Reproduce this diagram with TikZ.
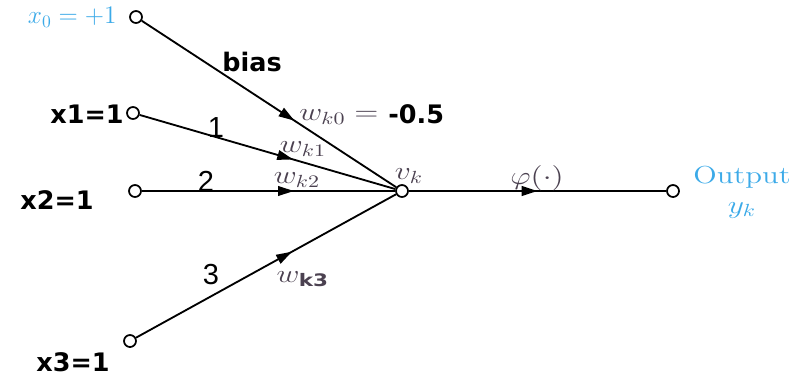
\documentclass[tikz,border=0pt]{standalone}
\usepackage{amsmath,graphicx}
\usepackage{fontspec}
\newfontfamily\boldsans{DejaVu Sans}
\newfontfamily\numsans{Liberation Sans}
\usetikzlibrary{arrows.meta,decorations.markings}
\definecolor{outblue}{RGB}{60,170,232}
\definecolor{wgray}{RGB}{75,65,80}
\newcommand{\hs}[1]{\scalebox{1.25}[1]{#1}}
\tikzset{
	cir/.style={draw,circle,line width=1pt,inner sep=0pt,minimum size=0.24cm,fill=white},
	wire/.style={line width=1.05pt},
	midarrow/.style={postaction={decorate,decoration={markings,
		mark=at position #1 with {\arrow{Triangle[length=9pt,width=5.5pt]}}}}},
	inlab/.style={font=\boldsans\bfseries\fontsize{14.5}{16}\selectfont},
	numlab/.style={font=\numsans\fontsize{16.5}{18}\selectfont},
	wlab/.style={text=wgray,font=\fontsize{14}{16}\selectfont,inner sep=0pt}
}

\begin{document}
\begin{tikzpicture}[x=0.02cm,y=-0.02cm]
	\useasboundingbox (0,0) rectangle (795,376);
	\node[cir] (x0) at (136,17) {};
	\node[cir] (x1) at (133,113) {};
	\node[cir] (x2) at (135,191) {};
	\node[cir] (x3) at (130,341) {};
	\node[cir] (vk) at (402,191) {};
	\node[cir] (yk) at (673,191) {};
	\draw[wire,midarrow=0.6] (x0) -- (vk);
	\draw[wire,midarrow=0.6] (x1) -- (vk);
	\draw[wire,midarrow=0.6] (x2) -- (vk);
	\draw[wire,midarrow=0.6] (x3) -- (vk);
	\draw[wire,midarrow=0.5] (vk) -- (yk);
	\node[anchor=east,text=outblue,font=\fontsize{14.5}{16}\selectfont,inner sep=0pt] (x0lab) at (117,17) {$x_0 = +1$};
	\node[inlab,anchor=east,inner sep=0pt] (x1lab) at (124,114) {x1=1};
	\node[inlab] (x2lab) at (57,200) {x2=1};
	\node[inlab] (x3lab) at (73,362) {x3=1};
	\node[inlab] (bias) at (252,62) {bias};
	\node[wlab,anchor=west] (wk0) at (299,117) {\hs{$w_{k0} =$}};
	\node[inlab,anchor=west,inner sep=0pt] (wval) at (388,114) {-0.5};
	\node[numlab] (n1) at (216,128) {1};
	\node[wlab] (wk1) at (303,149) {\hs{$w_{k1}$}};
	\node[numlab] (n2) at (206,181) {2};
	\node[wlab] (wk2) at (297,180) {\hs{$w_{k2}$}};
	\node[wlab] (vklab) at (409,176) {\hs{$v_k$}};
	\node[wlab] (phi) at (537,178) {\hs{$\varphi(\cdot)$}};
	\node[numlab] (n3) at (211,275) {3};
	\node[wlab] (wk3) at (303,279) {\hs{$w_{\text{\boldsans\bfseries k3}}$}};
	\node[text=outblue,font=\fontsize{14}{14}\selectfont,inner sep=0pt,align=center] (outlab) at (742,192) {\hs{Output}\\[3pt]\hs{$y_k$}\hspace{6pt}};
\end{tikzpicture}
\end{document}
